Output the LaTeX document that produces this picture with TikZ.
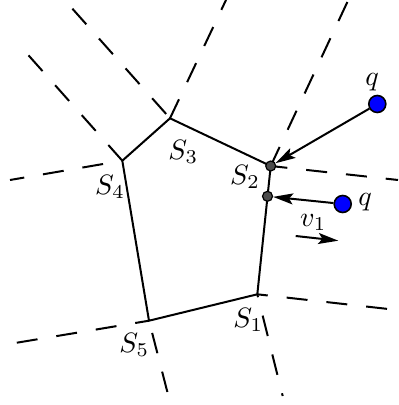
\documentclass[tikz,border=0pt]{standalone}
\usetikzlibrary{arrows.meta}
\begin{document}
\begin{tikzpicture}[x=0.5pt,y=-0.5pt,
  edge/.style={line width=1pt},
  ray/.style={line width=1pt, dash pattern=on 10.5pt off 9.5pt},
  bluept/.style={circle, fill=blue, draw=black, line width=0.8pt, inner sep=0pt, minimum size=8.5pt},
  graypt/.style={circle, fill=black!70, draw=black, line width=0.6pt, inner sep=0pt, minimum size=5pt},
  arr/.style={line width=1pt, -{Stealth[length=10pt,width=5.5pt,inset=2pt]}},
  lab/.style={inner sep=0pt, scale=1.4}]
\useasboundingbox (0,0) rectangle (398,405);
\clip (0,0) rectangle (398,405);
% vertices
\coordinate (V1) at (257.3,294.3);
\coordinate (V2) at (270.7,166);
\coordinate (V3) at (170,118.3);
\coordinate (V4) at (122.3,160.7);
\coordinate (V5) at (149,320.7);
% ray ends
\coordinate (E4a) at (10,180);
\coordinate (E4b) at (26.7,53.3);
\coordinate (E3a) at (70,6);
\coordinate (E3b) at (226,0);
\coordinate (E2a) at (348.3,0);
\coordinate (E2b) at (398,180);
\coordinate (E1a) at (388.3,309);
\coordinate (E1b) at (282.7,396);
\coordinate (E5a) at (13.3,343.3);
\coordinate (E5b) at (167.7,393.3);
% dashed rays
\draw[ray, dash phase=10.25pt] (V4) -- (E4a);
\draw[ray] (V4) -- (E4b);
\draw[ray, dash phase=17.1pt] (V3) -- (E3a);
\draw[ray] (V3) -- (E3b);
\draw[ray] (V2) -- (E2a);
\draw[ray, dash phase=2.15pt] (V2) -- (E2b);
\draw[ray, dash phase=5.25pt] (V1) -- (E1a);
\draw[ray, dash phase=9pt] (V1) -- (E1b);
\draw[ray, dash phase=3.5pt] (V5) -- (E5a);
\draw[ray, dash phase=13.7pt] (V5) -- (E5b);
% pentagon
\draw[edge] (V1) -- (V2) -- (V3) -- (V4) -- (V5) -- cycle;
% points
\node[graypt] (p2) at (V2) {};
\node[graypt] (p1) at (267.5,196.3) {};
\node[bluept] (q1) at (377.3,104) {};
\node[bluept] (q2) at (342.7,204) {};
\draw[arr] (q1) -- (p2);
\draw[arr] (q2) -- (p1);
% velocity
\coordinate (va) at (295.7,236);
\coordinate (vb) at (338.3,240.7);
\draw[arr] (va) -- (vb);
% labels
\node[lab] (l1) at (248.3,320) {$S_1$};
\node[lab] (l2) at (245,176.7) {$S_2$};
\node[lab] (l3) at (183.3,152.3) {$S_3$};
\node[lab] (l4) at (110,187.3) {$S_4$};
\node[lab] (l5) at (134.3,345) {$S_5$};
\node[lab] (lq1) at (372.2,81.7) {$q$};
\node[lab] (lq2) at (365,202.3) {$q$};
\node[lab] (lv) at (313.3,222.3) {$v_1$};
\end{tikzpicture}
\end{document}
